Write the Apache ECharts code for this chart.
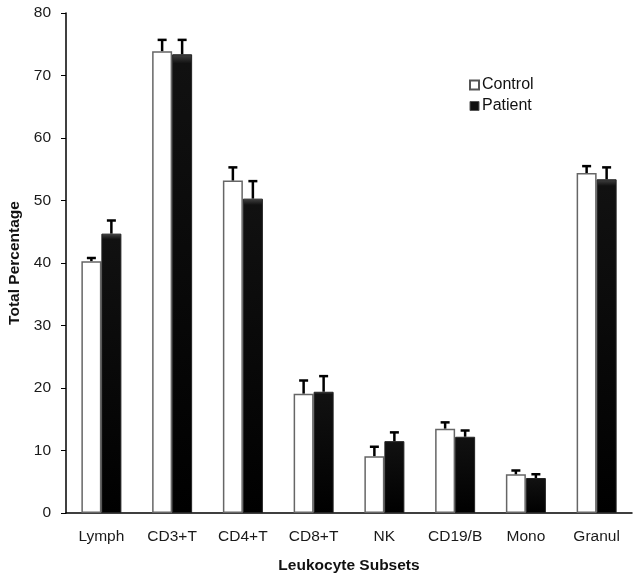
<!DOCTYPE html>
<html><head><meta charset="utf-8">
<script src="https://cdn.jsdelivr.net/npm/echarts@6/dist/echarts.min.js"></script>
<style>html,body{margin:0;padding:0;background:#fff}#c{width:637px;height:578px}</style>
</head><body><div id="c"></div>
<script>
var categories = ['Lymph','CD3+T','CD4+T','CD8+T','NK','CD19/B','Mono','Granul'];
var controlValues = [40.3, 73.9, 53.2, 19.1, 9.1, 13.5, 6.2, 54.4];
var patientValues = [44.7, 73.4, 50.3, 19.4, 11.5, 12.2, 5.6, 53.4];
var controlErr = [0.5, 1.8, 2.1, 2.1, 1.5, 1.0, 0.6, 1.1];
var patientErr = [2.1, 2.3, 2.8, 2.5, 1.4, 1.0, 0.6, 1.9];
var yTicks = [0, 10, 20, 30, 40, 50, 60, 70, 80];

var chart = echarts.init(document.getElementById('c'));
var BW = 20;
function errSeries(vals, errs, side) {
  return {
    type: 'custom',
    z: 5,
    silent: true,
    data: vals.map(function (v, i) { return [i, v, v + errs[i]]; }),
    renderItem: function (params, api) {
      var p0 = api.coord([api.value(0), api.value(1)]);
      var p1 = api.coord([api.value(0), api.value(2)]);
      var x = p0[0] + side * BW / 2;
      return {
        type: 'group',
        children: [
          {type: 'line', shape: {x1: x, y1: p0[1], x2: x, y2: p1[1]}, style: {stroke: '#000', lineWidth: 2.5}},
          {type: 'line', shape: {x1: x - 4.5, y1: p1[1], x2: x + 4.5, y2: p1[1]}, style: {stroke: '#000', lineWidth: 2.5}}
        ]
      };
    }
  };
}
chart.setOption({
  animation: false,
  textStyle: {fontFamily: 'Liberation Sans, Arial, sans-serif'},
  grid: {left: 66, right: 5, top: 13, bottom: 65, containLabel: false, outerBoundsMode: 'none'},
  legend: {
    data: [
      {name: 'Control', icon: 'rect', itemStyle: {color: '#fff', borderColor: '#555', borderWidth: 2}},
      {name: 'Patient', icon: 'rect', itemStyle: {color: '#111', borderColor: '#555', borderWidth: 1}}
    ],
    orient: 'vertical',
    left: 464, top: 72,
    itemWidth: 9, itemHeight: 9, itemGap: 5,
    textStyle: {fontSize: 16, color: '#111', padding: [0, 0, 0, -2]}
  },
  xAxis: {
    type: 'category',
    data: categories,
    axisLine: {lineStyle: {color: '#000', width: 1.5}},
    axisTick: {show: false},
    axisLabel: {fontSize: 15.5, color: '#1a1a1a', margin: 16, interval: 0, hideOverlap: false},
    name: 'Leukocyte Subsets',
    nameLocation: 'middle',
    nameGap: 45,
    nameTextStyle: {fontSize: 15.5, fontWeight: 'bold', color: '#111'}
  },
  yAxis: {
    type: 'value',
    min: yTicks[0], max: yTicks[yTicks.length - 1], interval: 10,
    splitLine: {show: false},
    axisLine: {show: true, lineStyle: {color: '#000', width: 1.5}},
    axisTick: {show: true, inside: false, length: 5, lineStyle: {color: '#000'}},
    axisLabel: {fontSize: 15.5, color: '#1a1a1a', margin: 15},
    name: 'Total Percentage',
    nameLocation: 'middle',
    nameGap: 42,
    nameRotate: 90,
    nameTextStyle: {fontSize: 15.5, fontWeight: 'bold', color: '#111'}
  },
  series: [
    {name: 'Control', type: 'bar', data: controlValues, barWidth: BW, barGap: '0%',
     itemStyle: {color: '#fff', borderColor: '#666', borderWidth: 1.5}},
    {name: 'Patient', type: 'bar', data: patientValues, barWidth: BW, barGap: '0%',
     itemStyle: {color: new echarts.graphic.LinearGradient(0, 0, 0, 1, [
       {offset: 0, color: '#444'}, {offset: 0.02, color: '#111'}, {offset: 1, color: '#000'}]),
       borderColor: '#222', borderWidth: 1}},
    errSeries(controlValues, controlErr, -1),
    errSeries(patientValues, patientErr, 1)
  ]
});
</script></body></html>
